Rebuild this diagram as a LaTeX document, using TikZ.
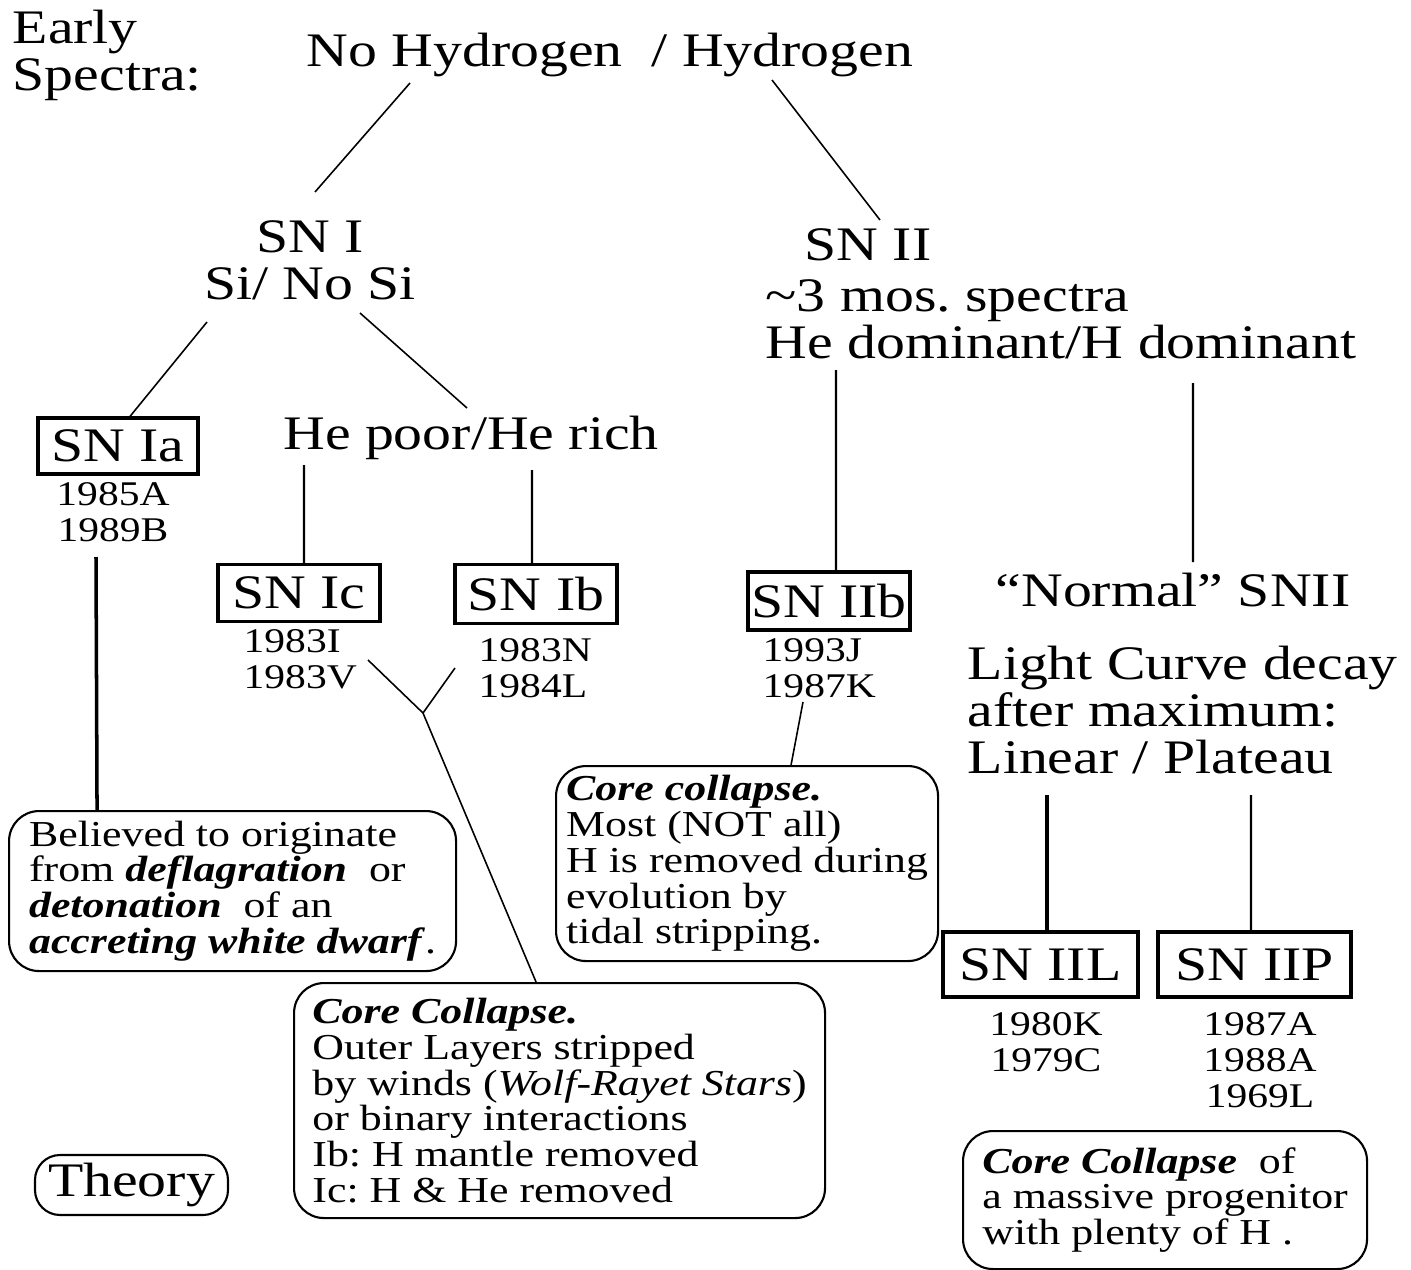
\documentclass[tikz,border=0pt]{standalone}
\usepackage{fontspec}
\setmainfont{Liberation Serif}[FakeStretch=1.2]
\usetikzlibrary{calc}
\newcommand{\bfit}[1]{\textbf{\textit{#1}}}
\frenchspacing
\begin{document}
\begin{tikzpicture}[font=\fontsize{13.7}{13.4}\selectfont]
\tikzstyle{txt}=[inner sep=0pt,align=center]
\tikzstyle{snbox}=[draw,line width=0.9pt,inner sep=0pt,minimum width=1.62cm,minimum height=0.57cm]
\tikzstyle{yr}=[inner sep=0pt,align=center,font=\fontsize{9.85}{10.2}\selectfont]
\tikzstyle{notebox}=[draw,line width=0.6pt,rounded corners=0.3cm,inner sep=0pt,align=left,anchor=north west,font=\fontsize{10.4}{10.2}\selectfont]
\tikzstyle{ln}=[line width=0.45pt]
\tikzstyle{lnv}=[line width=0.6pt]
\tikzstyle{lnthick}=[line width=1pt]
\useasboundingbox (0,0) rectangle (14.11,-12.70);
% spectra tree
\node[txt,anchor=west,align=left] (early) at (0.12,-0.55) {Early\\Spectra:};
\node[txt] (hyd) at (6.10,-0.55) {No Hydrogen~~/ Hydrogen};
\node[txt] (sn1) at (3.10,-2.60) {SN I\\Si/ No Si};
\node[txt] (sn2) at (8.68,-2.45) {SN II};
\node[txt,anchor=west,align=left] (sn2info) at (7.65,-3.19) {\textasciitilde3 mos. spectra\\He dominant/H dominant};
\node[txt] (hepoor) at (4.71,-4.38) {He poor/He rich};
\node[snbox,minimum width=1.60cm,minimum height=0.56cm] (Ia) at (1.18,-4.46) {SN Ia};
\node[yr] (yrIa) at (1.13,-5.12) {1985A\\1989B};
\node[snbox] (Ic) at (2.99,-5.93) {SN Ic};
\node[snbox,minimum height=0.59cm] (Ib) at (5.36,-5.94) {SN Ib};
\node[yr,anchor=west,align=left] (yrIc) at (2.43,-6.59) {1983I\\1983V};
\node[yr,anchor=west,align=left] (yrIb) at (4.78,-6.68) {1983N\\1984L};
\node[snbox,minimum height=0.58cm] (IIb) at (8.29,-6.01) {SN IIb};
\node[yr,anchor=west,align=left] (yrIIb) at (7.62,-6.68) {1993J\\1987K};
\node[txt] (normal) at (11.73,-5.90) {``Normal'' SNII};
\node[txt,anchor=west,align=left] (light) at (9.67,-7.10) {Light Curve decay\\after maximum:\\Linear / Plateau};
\node[snbox,minimum width=1.95cm,minimum height=0.65cm] (IIL) at (10.405,-9.645) {SN IIL};
\node[snbox,minimum width=1.93cm,minimum height=0.65cm] (IIP) at (12.545,-9.645) {SN IIP};
\node[yr] (yrIIL) at (10.46,-10.42) {1980K\\1979C};
\node[yr] (yrIIP) at (12.60,-10.60) {1987A\\1988A\\1969L};
% theory boxes
\node[notebox,minimum width=4.47cm,minimum height=1.60cm] (believed) at (0.08,-8.10) {Believed to originate\\from \bfit{deflagration}~~or\\\bfit{detonation}~~of an\\\bfit{accreting white dwarf}.};
\node[notebox,minimum width=3.82cm,minimum height=1.95cm] (ccIIb) at (5.55,-7.65) {\bfit{Core collapse.}\\Most (NOT all)\\H is removed during\\evolution by\\tidal stripping.};
\node[notebox,minimum width=5.31cm,minimum height=2.35cm] (ccIb) at (2.93,-9.82) {\bfit{Core Collapse.}\\Outer Layers stripped\\by winds (\textit{Wolf-Rayet Stars})\\or binary interactions\\Ib: H mantle removed\\Ic: H \& He removed};
\node[notebox,minimum width=4.04cm,minimum height=1.38cm] (ccH) at (9.62,-11.30) {\bfit{Core Collapse}~~of\\a massive progenitor\\with plenty of H .};
\node[draw,line width=0.6pt,rounded corners=0.25cm,inner sep=0pt,minimum width=1.93cm,minimum height=0.60cm] (theory) at (1.315,-11.85) {Theory};
% connectors
\draw[ln] ($(hyd)+(-2.00,-0.28)$) -- ($(sn1)+(0.05,0.68)$);
\draw[ln] ($(hyd)+(1.62,-0.25)$) -- ($(sn2)+(0.12,0.25)$);
\draw[ln] ($(sn1)+(-1.03,-0.62)$) -- ($(Ia.north)+(0.12,0)$);
\draw[ln] ($(sn1)+(0.50,-0.53)$) -- ($(hepoor)+(-0.04,0.30)$);
\draw[lnv] ($(hepoor)+(-1.67,-0.27)$) -- ($(Ic.north)+(0.05,0)$);
\draw[lnv] ($(hepoor)+(0.61,-0.32)$) -- ($(Ib.north)+(-0.04,0)$);
\draw[lnthick] ($(yrIa)+(-0.17,-0.45)$) -- ($(believed.north)+(-1.355,0)$);
\coordinate (fork) at (4.23,-7.13);
\draw[ln] ($(Ic)+(0.69,-0.67)$) -- (fork) -- ($(ccIb.north)+(-0.235,0)$);
\draw[ln] ($(Ib)+(-0.81,-0.74)$) -- (fork);
\draw[ln] ($(IIb)+(-0.26,-1.01)$) -- ($(ccIIb.north)+(0.44,0)$);
\draw[lnv] ($(sn2info.west)+(0.71,-0.51)$) -- ($(IIb.north)+(0.07,0)$);
\draw[lnv] ($(sn2info.west)+(4.28,-0.64)$) -- ($(normal)+(0.20,0.28)$);
\draw[lnthick] ($(light.west)+(0.80,-0.85)$) -- ($(IIL.north)+(0.065,0)$);
\draw[lnv] ($(light.west)+(2.84,-0.85)$) -- ($(IIP.north)+(-0.035,0)$);
\end{tikzpicture}
\end{document}
